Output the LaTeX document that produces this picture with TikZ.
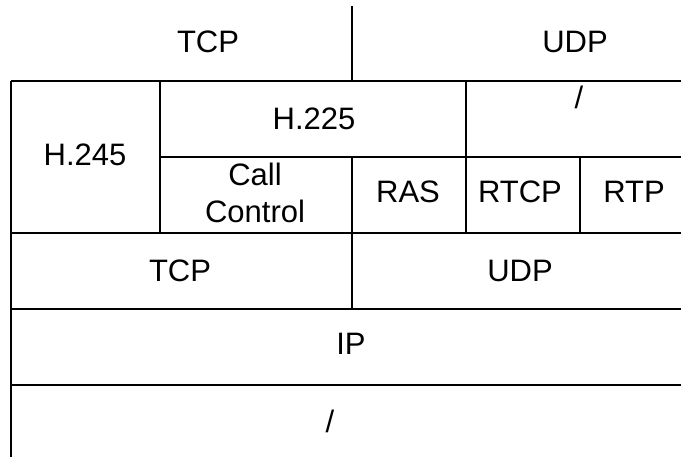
\documentclass[tikz,border=0pt]{standalone}
\usepackage{fontspec}
\setmainfont{Liberation Sans}
\usepackage{tikz}
\def\fs{31}

\begin{document}
\begin{tikzpicture}[x=1pt, y=-1pt, line width=1.5pt,
    every node/.style={font=\fontsize{\fs}{37}\selectfont, align=center, inner sep=0pt, anchor=base}]
            \useasboundingbox (0,0) rectangle (681,457);

            % grid lines
            \draw (352,6) -- (352,81);
            \draw (11,81) -- (681,81);
            \draw (11,81) -- (11,457);
            \draw (160,81) -- (160,233);
            \draw (466,81) -- (466,233);
            \draw (160,157) -- (681,157);
            \draw (352,157) -- (352,309);
            \draw (580,157) -- (580,233);
            \draw (11,233) -- (681,233);
            \draw (11,309) -- (681,309);
            \draw (11,385) -- (681,385);

            % top row
            \node (tcpTop) at (208,53) {TCP};
            \node (udpTop) at (575,53) {UDP};

            % application layer
            \node (h245) at (85,166) {H.245};
            \node (h225) at (314,130) {H.225};
            \node (slashTop) at (579,109) {/};
            \node (callCtl) at (255,223) {Call\\Control};
            \node (ras) at (408,203) {RAS};
            \node (rtcp) at (520,203) {RTCP};
            \node (rtp) at (634,203) {RTP};

            % transport and below
            \node (tcp) at (180,282) {TCP};
            \node (udp) at (520,282) {UDP};
            \node (ip) at (351,355) {IP};
            \node (slashBot) at (330,432) {/};
        \end{tikzpicture}
\end{document}
